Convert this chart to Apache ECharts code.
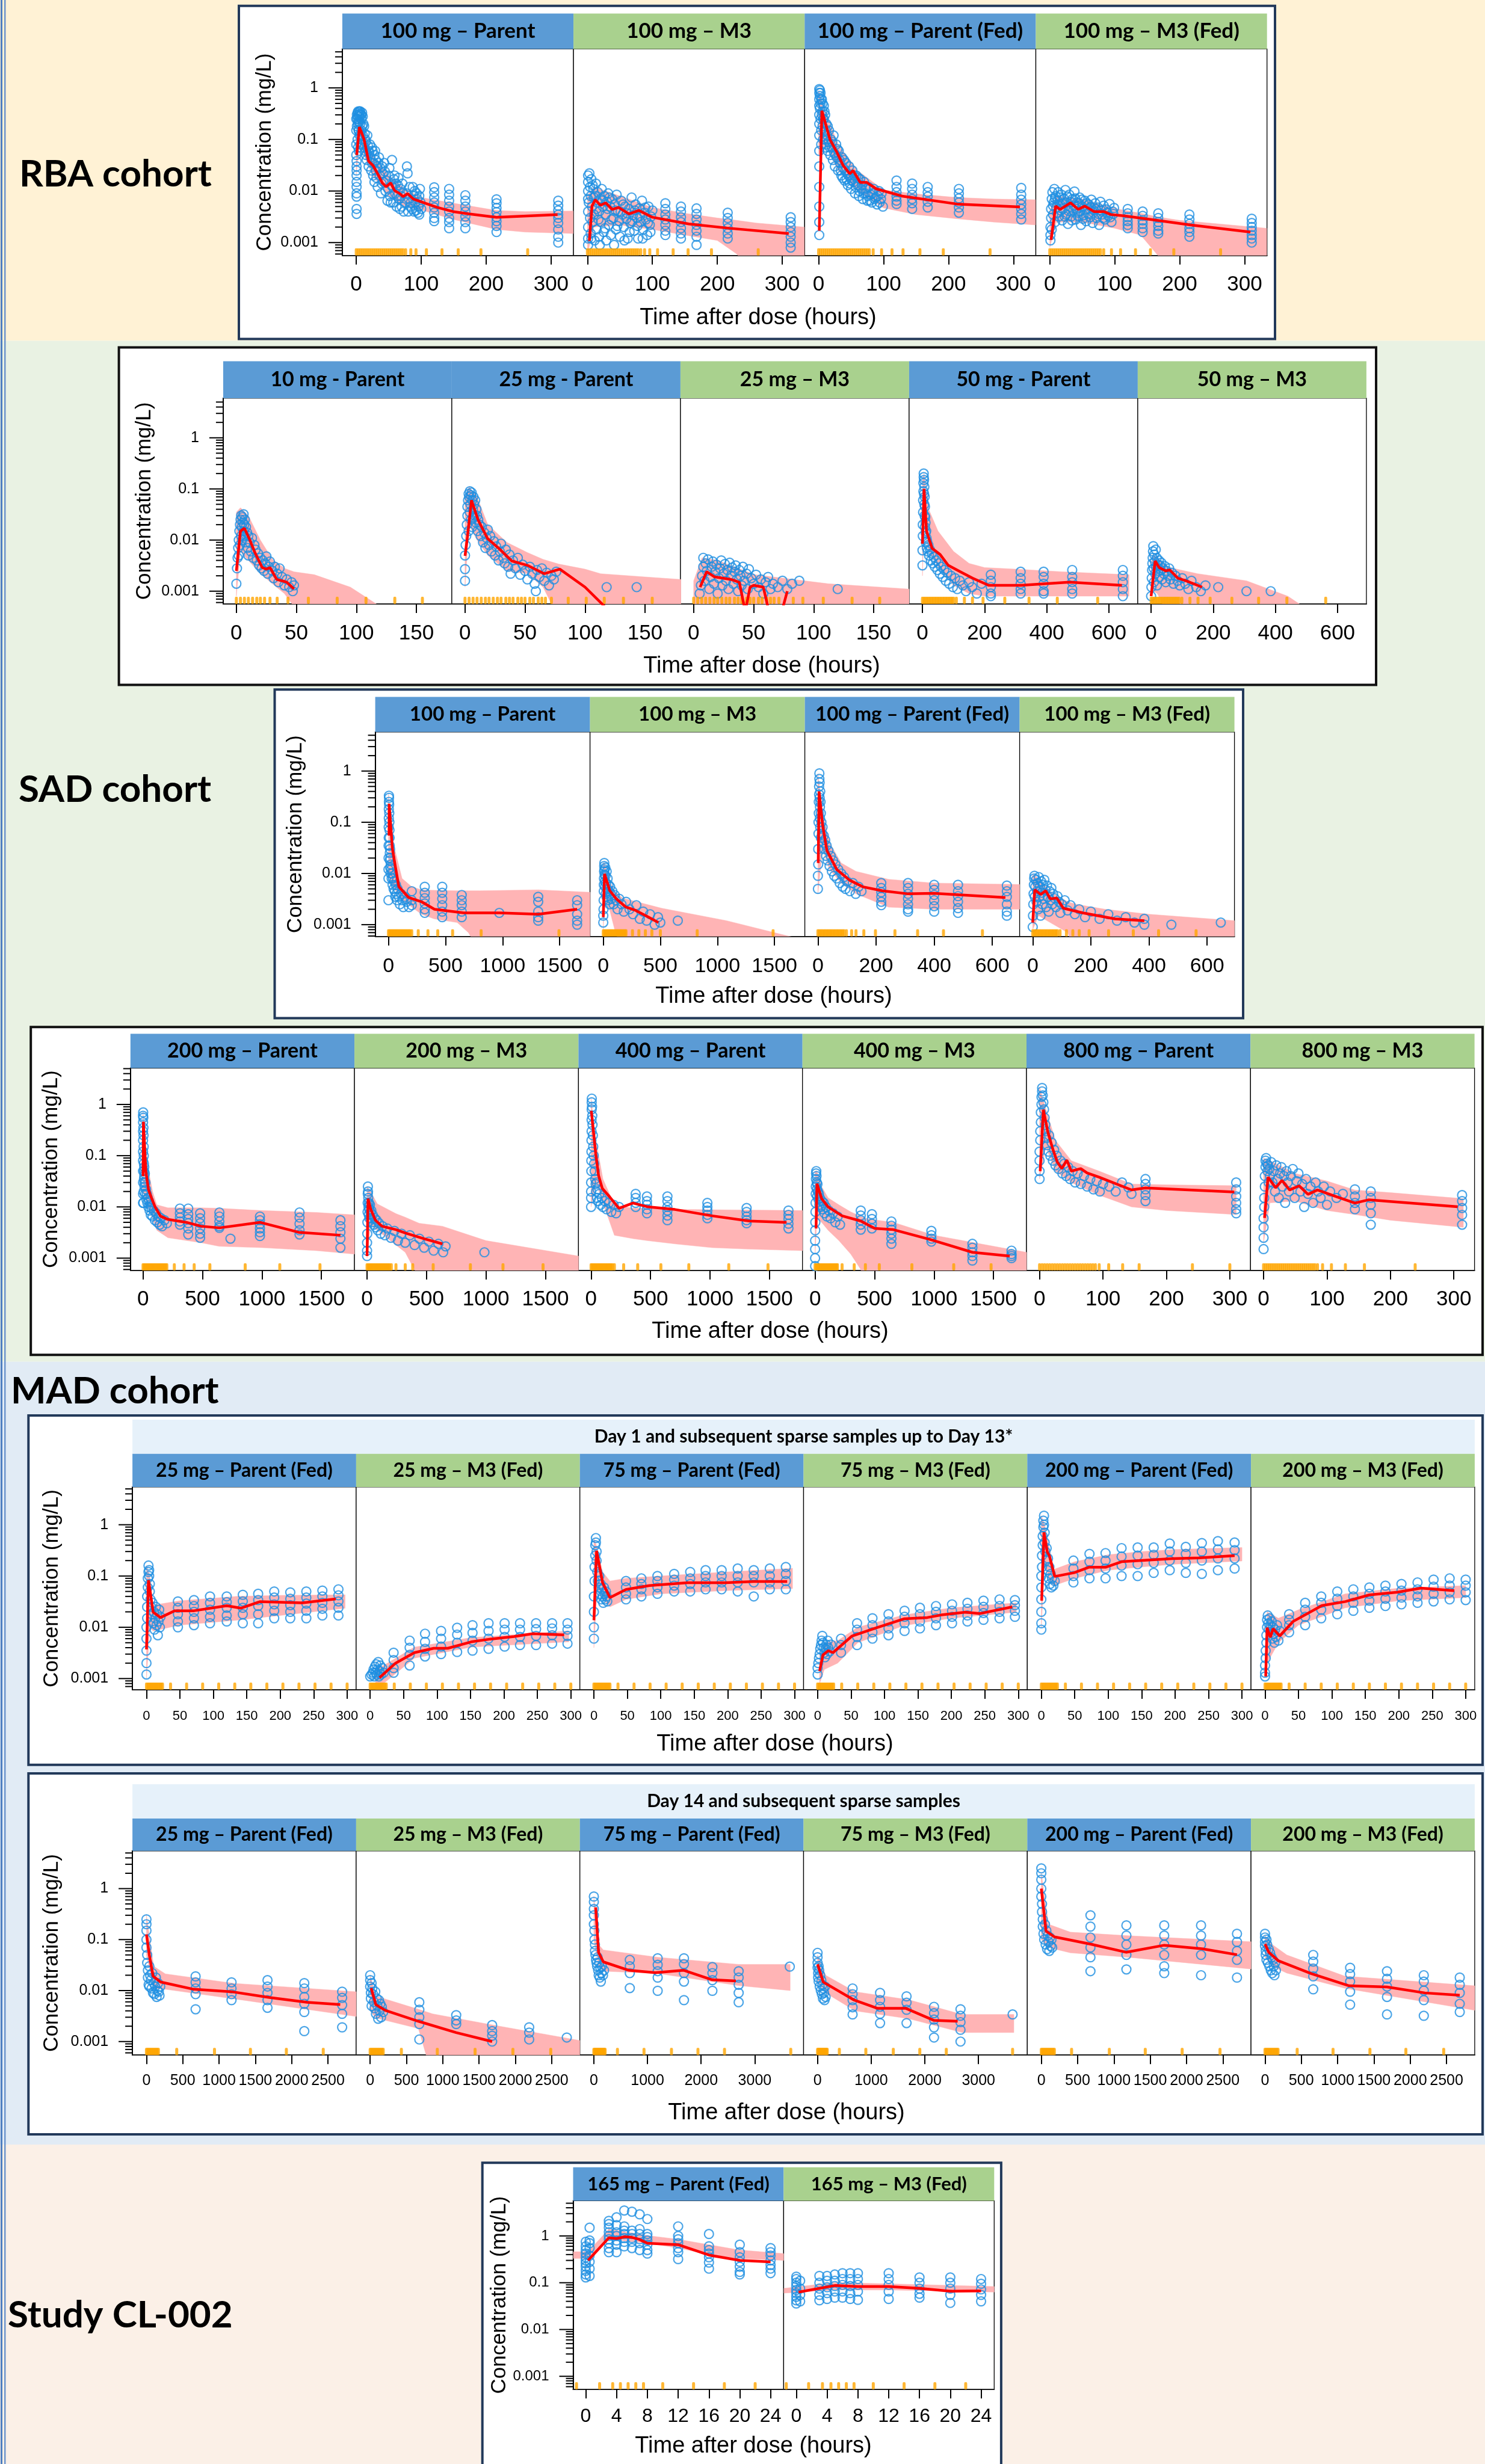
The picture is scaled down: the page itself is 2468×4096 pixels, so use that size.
<!DOCTYPE html>
<html><head><meta charset="utf-8">
<script src="https://cdn.jsdelivr.net/npm/echarts@6/dist/echarts.min.js"></script>
<style>html,body{margin:0;padding:0;background:#fff}#c{width:2468px;height:4096px}</style>
</head><body><div id="c"></div>
<script>
// ---------------- TEXT ----------------
const SECTION_LABELS = ['RBA cohort', 'SAD cohort', 'MAD cohort', 'Study CL-002'];
const RBA_TITLES = ['100 mg – Parent', '100 mg – M3', '100 mg – Parent (Fed)', '100 mg – M3 (Fed)'];
const SADA_TITLES = ['10 mg - Parent', '25 mg - Parent', '25 mg – M3', '50 mg - Parent', '50 mg – M3'];
const SADB_TITLES = ['100 mg – Parent', '100 mg – M3', '100 mg – Parent (Fed)', '100 mg – M3 (Fed)'];
const SADC_TITLES = ['200 mg – Parent', '200 mg – M3', '400 mg – Parent', '400 mg – M3', '800 mg – Parent', '800 mg – M3'];
const MAD_TITLES = ['25 mg – Parent (Fed)', '25 mg – M3 (Fed)', '75 mg – Parent (Fed)', '75 mg – M3 (Fed)', '200 mg – Parent (Fed)', '200 mg – M3 (Fed)'];
const CL_TITLES = ['165 mg – Parent (Fed)', '165 mg – M3 (Fed)'];
const DAY_HEADERS = ['Day 1 and subsequent sparse samples up to Day 13*', 'Day 14 and subsequent sparse samples'];
const Y_TITLE = 'Concentration (mg/L)';
const X_TITLE = 'Time after dose (hours)';

// ---------------- TICKS ----------------
const LOG_MAJOR = [0.001, 0.01, 0.1, 1];
const LOG_MINOR = [0.0006,0.0007,0.0008,0.0009,0.002,0.003,0.004,0.005,0.006,0.007,0.008,0.009,0.02,0.03,0.04,0.05,0.06,0.07,0.08,0.09,0.2,0.3,0.4,0.5,0.6,0.7,0.8,0.9,2,3,4,5];
const T300 = [0, 100, 200, 300];
const T150 = [0, 50, 100, 150];
const T600 = [0, 200, 400, 600];
const T1500 = [0, 500, 1000, 1500];
const T300B = [0, 50, 100, 150, 200, 250, 300];
const T2500 = [0, 500, 1000, 1500, 2000, 2500];
const T3000 = [0, 1000, 2000, 3000];
const T24 = [0, 4, 8, 12, 16, 20, 24];

// ---------------- RBA cohort ----------------
const A1_PTS = [[0.5,0.038],[0.5,0.03],[0.5,0.025],[0.5,0.02],[0.5,0.015],[0.5,0.012],[0.5,0.009],[0.5,0.0078],[0.5,0.0045],[0.5,0.0036],[1,0.3],[1.5,0.25],[2,0.33],[2.5,0.2],[3,0.35],[3.5,0.15],[4,0.3],[4.5,0.28],[5,0.22],[5.5,0.32],[6,0.35],[7,0.3],[8,0.25],[9,0.33],[10,0.28],[2,0.1],[3,0.07],[4,0.06],[5,0.12],[6,0.08],[8,0.15],[10,0.12],[12,0.18],[14,0.1],[12,0.07],[14,0.06],[15,0.05],[16,0.04],[18,0.075],[19,0.03],[20,0.055],[22,0.045],[23,0.025],[24,0.035],[25,0.06],[26,0.02],[28,0.05],[28,0.015],[30,0.04],[30,0.025],[32,0.03],[33,0.012],[35,0.045],[36,0.02],[38,0.009],[40,0.03],[42,0.015],[44,0.024],[45,0.01],[48,0.0065],[50,0.02],[52,0.008],[54,0.013],[55,0.04],[57,0.006],[58,0.017],[60,0.009],[62,0.005],[64,0.013],[66,0.007],[68,0.011],[70,0.005],[72,0.009],[75,0.006],[78,0.03],[79,0.022],[80,0.004],[82,0.012],[84,0.006],[86,0.0045],[88,0.008],[90,0.01],[92,0.0042],[94,0.007],[96,0.005],[97,0.0035],[98,0.011],[99,0.006],[0,0.25],[0,0.15],[0,0.08],[0,0.05],[1,0.18],[2,0.28],[3,0.22],[4,0.15],[5,0.35],[6,0.2],[7,0.12],[8,0.3],[9,0.18],[10,0.08],[11,0.2],[13,0.13],[15,0.09],[17,0.12],[19,0.06],[21,0.08],[24,0.07],[27,0.035],[29,0.06],[31,0.018],[34,0.035],[37,0.028],[39,0.014],[41,0.022],[43,0.035],[46,0.016],[49,0.011],[51,0.028],[53,0.006],[56,0.012],[59,0.02],[61,0.014],[63,0.008],[65,0.018],[67,0.0045],[69,0.008],[71,0.014],[73,0.004],[77,0.009],[81,0.007],[83,0.005],[87,0.012],[89,0.004],[91,0.006],[93,0.009],[95,0.0038],[97,0.008],[100,0.0045],[120,0.0118],[120,0.0095],[120,0.0075],[120,0.006],[120,0.0048],[120,0.0038],[120,0.003],[120,0.0026],[143,0.011],[143,0.0085],[143,0.0065],[143,0.005],[143,0.004],[143,0.003],[143,0.0025],[143,0.0019],[168,0.0083],[168,0.0065],[168,0.005],[168,0.004],[168,0.0032],[168,0.0025],[168,0.0019],[216,0.0069],[216,0.0058],[216,0.0047],[216,0.0039],[216,0.0031],[216,0.0026],[216,0.0021],[216,0.0016],[311,0.0065],[311,0.0052],[311,0.0042],[311,0.0035],[311,0.003],[311,0.0024],[311,0.0018],[311,0.0013],[311,0.001]];
const A1_MED = [[0.7,0.05],[4.8,0.174],[7.2,0.147],[12,0.1],[19,0.038],[26,0.031],[34,0.0204],[40,0.0144],[46,0.0121],[53,0.0144],[59,0.0102],[67,0.0089],[72,0.0078],[79,0.0089],[88,0.007],[101,0.0061],[125,0.0048],[149,0.004],[173,0.0036],[216,0.0031],[310,0.0035]];
const A1_BAND = [[0,0.02,0.08],[5,0.1,0.3],[12,0.05,0.15],[25,0.02,0.05],[50,0.008,0.02],[75,0.005,0.011],[100,0.0043,0.0075],[150,0.0028,0.0058],[216,0.0018,0.0042],[260,0.0016,0.004],[334,0.0015,0.0041]];
const A1_RUG = [0,3,6,9,12,15,18,21,24,27,30,33,36,39,42,45,48,51,54,57,60,63,66,69,72,76,84,92,108,132,157,192,264];

const A2_PTS = [[1,0.02],[1,0.015],[1,0.01],[1,0.007],[1,0.004],[1,0.002],[1,0.0012],[1,0.0009],[3,0.022],[4,0.012],[5,0.008],[5,0.0015],[6,0.017],[7,0.005],[8,0.0025],[9,0.011],[10,0.0035],[11,0.0011],[12,0.008],[13,0.014],[14,0.0018],[15,0.006],[16,0.0095],[18,0.004],[18,0.0013],[20,0.007],[21,0.0025],[22,0.011],[24,0.005],[25,0.0016],[26,0.008],[28,0.0035],[29,0.0011],[30,0.0062],[32,0.009],[33,0.0022],[35,0.005],[36,0.0014],[38,0.007],[40,0.003],[42,0.0055],[44,0.0018],[45,0.0085],[47,0.004],[49,0.0026],[50,0.0013],[52,0.0065],[54,0.0035],[56,0.002],[58,0.005],[60,0.0029],[62,0.0012],[64,0.0045],[66,0.0024],[68,0.0075],[70,0.0034],[72,0.0017],[74,0.0055],[76,0.003],[78,0.0012],[80,0.0046],[82,0.0025],[84,0.0065],[86,0.0018],[88,0.0038],[90,0.0028],[92,0.0014],[94,0.005],[96,0.0022],[98,0.0032],[2,0.006],[4,0.003],[6,0.0012],[8,0.013],[10,0.0075],[14,0.0045],[17,0.0028],[19,0.0009],[23,0.0065],[27,0.0019],[31,0.0045],[34,0.0075],[37,0.0028],[41,0.0009],[43,0.0042],[46,0.0021],[51,0.004],[55,0.0055],[57,0.0011],[61,0.0037],[65,0.0016],[69,0.0026],[73,0.0042],[77,0.0021],[81,0.0033],[85,0.0012],[89,0.0048],[93,0.0024],[97,0.0016],[100,0.0042],[120,0.0058],[120,0.0045],[120,0.0035],[120,0.0028],[120,0.0022],[120,0.0017],[120,0.0014],[144,0.005],[144,0.004],[144,0.0031],[144,0.0025],[144,0.0019],[144,0.0015],[144,0.0012],[168,0.0046],[168,0.0036],[168,0.0028],[168,0.0022],[168,0.0017],[168,0.0013],[168,0.0009],[216,0.0038],[216,0.003],[216,0.0024],[216,0.0019],[216,0.0015],[216,0.0012],[313,0.0031],[313,0.0025],[313,0.002],[313,0.0016],[313,0.0013],[313,0.001],[313,0.0008]];
const A2_MED = [[3,0.00108],[7,0.0051],[12,0.0068],[20,0.0053],[28,0.0059],[38,0.0044],[48,0.0048],[64,0.0036],[79,0.0042],[100,0.0031],[156,0.0023],[218,0.0019],[310,0.0015]];
const A2_BAND = [[0,0.0006,0.008],[10,0.002,0.012],[50,0.0022,0.008],[100,0.0018,0.0048],[150,0.0014,0.0037],[200,0.0011,0.003],[230,0.0006,0.0027],[260,0.0002,0.0024],[334,0.0001,0.002]];
const A2_RUG = [0,3,6,9,12,15,18,21,24,27,30,33,36,39,42,45,48,51,54,57,60,63,66,69,72,75,78,82,88,96,108,132,155,191,263];

const A3_PTS = [[1,0.95],[1,0.8],[1,0.6],[1,0.45],[1,0.3],[1,0.2],[1,0.12],[1,0.06],[1,0.03],[1,0.012],[1,0.005],[1,0.0025],[1,0.0014],[2,0.7],[3,0.5],[3,0.25],[4,0.15],[4,0.08],[5,0.6],[6,0.35],[6,0.18],[7,0.1],[8,0.45],[8,0.25],[9,0.14],[10,0.3],[10,0.07],[12,0.2],[13,0.12],[14,0.06],[15,0.09],[16,0.15],[18,0.05],[19,0.1],[20,0.07],[22,0.04],[23,0.12],[24,0.055],[25,0.03],[27,0.08],[28,0.045],[30,0.025],[31,0.06],[33,0.035],[35,0.02],[36,0.045],[38,0.028],[40,0.016],[42,0.035],[44,0.022],[45,0.013],[47,0.03],[49,0.018],[50,0.011],[52,0.025],[54,0.015],[56,0.009],[58,0.02],[60,0.013],[62,0.008],[64,0.017],[66,0.011],[68,0.007],[70,0.015],[72,0.009],[75,0.0065],[77,0.012],[80,0.0085],[82,0.006],[85,0.011],[88,0.0075],[90,0.0055],[93,0.01],[96,0.007],[99,0.005],[2,0.9],[2,0.4],[3,0.8],[4,0.6],[5,0.3],[6,0.5],[7,0.25],[9,0.35],[11,0.15],[12,0.08],[14,0.18],[17,0.07],[21,0.09],[26,0.05],[29,0.065],[32,0.04],[34,0.025],[37,0.018],[39,0.04],[41,0.025],[43,0.017],[46,0.02],[48,0.014],[51,0.016],[55,0.02],[57,0.012],[61,0.018],[63,0.01],[67,0.013],[69,0.009],[73,0.011],[76,0.008],[79,0.0065],[83,0.009],[86,0.007],[91,0.008],[94,0.006],[97,0.009],[120,0.016],[120,0.012],[120,0.0095],[120,0.0078],[120,0.0065],[120,0.0056],[144,0.014],[144,0.011],[144,0.0085],[144,0.007],[144,0.0058],[144,0.0045],[168,0.012],[168,0.0095],[168,0.0078],[168,0.0062],[168,0.0048],[216,0.011],[216,0.009],[216,0.0072],[216,0.006],[216,0.0048],[216,0.0038],[312,0.0115],[312,0.0085],[312,0.0068],[312,0.0055],[312,0.0045],[312,0.0036],[312,0.0028]];
const A3_MED = [[1,0.0017],[5,0.36],[17.5,0.1],[28,0.057],[38,0.031],[48,0.0216],[53,0.025],[64,0.0147],[74,0.0147],[89,0.011],[130,0.0079],[213,0.0056],[310,0.0049]];
const A3_BAND = [[0,0.05,0.9],[10,0.08,0.35],[30,0.025,0.08],[60,0.01,0.025],[100,0.0047,0.0105],[150,0.0035,0.0088],[213,0.0029,0.0075],[270,0.0025,0.007],[334,0.0022,0.0068]];
const A3_RUG = [0,3,6,9,12,15,18,21,24,27,30,33,36,39,42,45,48,51,54,57,60,63,66,69,72,75,78,84,97,113,130,156,192,264];

const A4_PTS = [[1,0.0011],[1,0.0014],[1,0.002],[2,0.003],[2,0.0045],[3,0.007],[4,0.0095],[5,0.0035],[6,0.006],[7,0.011],[8,0.0025],[9,0.008],[10,0.0048],[12,0.0065],[13,0.0095],[14,0.0032],[16,0.0055],[18,0.0085],[19,0.0027],[20,0.0045],[22,0.007],[24,0.0105],[25,0.0035],[26,0.006],[28,0.0023],[30,0.0085],[31,0.005],[33,0.0032],[35,0.007],[36,0.0042],[38,0.0098],[40,0.0028],[42,0.006],[44,0.0038],[46,0.0075],[48,0.0022],[50,0.005],[52,0.0034],[54,0.0065],[56,0.0026],[58,0.0045],[60,0.0055],[62,0.0031],[64,0.0068],[66,0.0024],[68,0.0042],[70,0.0058],[72,0.003],[74,0.0048],[76,0.0022],[78,0.0062],[80,0.0035],[83,0.0052],[85,0.0028],[87,0.0044],[90,0.0033],[92,0.0056],[95,0.0025],[97,0.004],[99,0.0047],[3,0.0018],[5,0.0052],[8,0.0072],[11,0.0038],[15,0.0075],[17,0.0042],[21,0.0058],[23,0.0032],[27,0.0078],[29,0.0041],[32,0.0062],[34,0.0027],[37,0.0052],[39,0.0072],[41,0.0045],[43,0.0033],[45,0.0058],[47,0.0041],[49,0.0068],[51,0.0029],[55,0.0044],[57,0.0058],[59,0.0036],[63,0.0049],[67,0.0038],[71,0.0045],[75,0.0036],[79,0.0042],[82,0.003],[88,0.0038],[93,0.0031],[98,0.0036],[120,0.0045],[120,0.0037],[120,0.0031],[120,0.0026],[120,0.0022],[120,0.0019],[143,0.004],[143,0.0033],[143,0.0027],[143,0.0023],[143,0.0019],[143,0.0016],[167,0.0037],[167,0.003],[167,0.0025],[167,0.0021],[167,0.0017],[167,0.0015],[215,0.0035],[215,0.0028],[215,0.0023],[215,0.0019],[215,0.0016],[215,0.0013],[311,0.0029],[311,0.0024],[311,0.002],[311,0.0017],[311,0.0014],[311,0.0012],[311,0.001]];
const A4_MED = [[2,0.00113],[9,0.0051],[16,0.0044],[32,0.0059],[44,0.0044],[54,0.0051],[68,0.004],[83,0.004],[94,0.0035],[114,0.0033],[165,0.0027],[217,0.0022],[309,0.0016]];
const A4_BAND = [[0,0.0008,0.004],[10,0.0025,0.008],[50,0.0025,0.007],[100,0.0019,0.0046],[140,0.0014,0.0037],[170,0.0005,0.0031],[200,0.0002,0.0027],[334,0.0001,0.0019]];
const A4_RUG = [0,3,6,9,12,15,18,21,24,27,30,33,36,39,42,45,48,51,54,57,60,63,66,69,72,75,78,83,95,109,132,155,191,263];

// ---------------- SAD cohort, row 1 ----------------
const B1_PTS = [[0,0.0014],[0.5,0.0028],[1,0.0045],[1.5,0.007],[2,0.01],[2,0.005],[2.5,0.015],[3,0.02],[3,0.008],[3.5,0.025],[4,0.012],[4,0.03],[4.5,0.018],[5,0.028],[5,0.01],[5.5,0.022],[6,0.015],[6,0.032],[6.5,0.02],[7,0.025],[7,0.012],[8,0.018],[8,0.009],[9,0.014],[9.5,0.007],[10,0.012],[10,0.005],[11,0.009],[12,0.006],[13,0.011],[14,0.0045],[15,0.008],[16,0.0065],[17,0.004],[18,0.0055],[19,0.0032],[20,0.0045],[21,0.0028],[22,0.004],[23,0.0025],[24,0.0035],[25,0.0048],[26,0.0022],[27,0.003],[28,0.0038],[30,0.0025],[31,0.0018],[32,0.003],[34,0.0022],[35,0.0015],[36,0.0028],[38,0.0019],[40,0.0013],[42,0.0017],[44,0.0012],[46,0.0015],[47,0.001],[48,0.0013]];
const B1_MED = [[0,0.0025],[3.4,0.015],[6.7,0.017],[11,0.0103],[15,0.006],[21.5,0.0029],[25,0.0027],[28,0.0029],[33.6,0.0017],[42,0.0015],[48,0.0011]];
const B1_BAND = [[0,0.0008,0.035],[3.4,0.006,0.043],[10,0.004,0.03],[20,0.0022,0.01],[30,0.0014,0.0042],[40,0.0009,0.0028],[48,0.0005,0.0024],[65,0.0003,0.0021],[95,0.0002,0.0012],[120,0.0001,0.0005]];
const B1_RUG = [0,3.4,6.7,10,13.5,17,20,23.5,28,34,43,60,84,108,132,155];

const B2_PTS = [[0,0.0016],[0,0.0027],[0,0.005],[0.5,0.008],[1,0.012],[1.5,0.02],[2,0.03],[2,0.045],[2.5,0.06],[3,0.08],[3,0.015],[3.5,0.07],[4,0.09],[4,0.035],[4.5,0.05],[5,0.075],[5,0.025],[5.5,0.085],[6,0.06],[6,0.018],[6.5,0.04],[7,0.07],[7,0.028],[7.5,0.05],[8,0.03],[8.5,0.06],[9,0.022],[9.5,0.04],[10,0.03],[10.5,0.015],[11,0.025],[12,0.02],[13,0.012],[14,0.018],[15,0.009],[16,0.014],[17,0.007],[18,0.011],[19,0.016],[20,0.008],[21,0.012],[22,0.006],[24,0.0095],[25,0.005],[26,0.0075],[28,0.004],[29,0.006],[30,0.0085],[32,0.0045],[33,0.0035],[34,0.0065],[36,0.003],[37,0.0052],[38,0.0022],[40,0.004],[42,0.0028],[44,0.0045],[46,0.0021],[48,0.0033],[50,0.0025],[52,0.0017],[54,0.003],[56,0.0022],[58,0.0014],[59,0.001],[60,0.0026],[62,0.0019],[64,0.0028],[66,0.0016],[68,0.0023],[70,0.0013],[72,0.002],[74,0.0017],[76,0.0024],[118,0.0012],[143,0.0012]];
const B2_MED = [[0,0.0049],[2,0.0114],[5.4,0.06],[10.8,0.025],[18.8,0.0107],[29,0.0066],[39,0.0039],[52,0.0032],[66,0.0022],[79,0.0027],[100,0.0012],[126,0.0003]];
const B2_BAND = [[0,0.0012,0.07],[3.4,0.02,0.11],[10,0.01,0.07],[19,0.005,0.02],[35,0.0025,0.009],[52,0.0022,0.0057],[65,0.0012,0.0042],[78,0.0003,0.0034],[100,0.0002,0.0027],[113,0.0001,0.0022],[150,0.0001,0.0019],[180,0.0001,0.0017]];
const B2_RUG = [0,3.4,6.7,10,13.5,17,20,23.5,27,30,34,37,40,44,47,50,54,57,61,64,67,72,86,101,116,132,156];

const B3_PTS = [[5,0.0009],[6,0.0013],[7,0.002],[8,0.003],[8,0.0045],[9,0.0016],[10,0.0035],[11,0.0025],[12,0.0042],[13,0.0011],[14,0.0019],[15,0.003],[16,0.0038],[17,0.0014],[18,0.0024],[19,0.0033],[20,0.0009],[21,0.0018],[22,0.0028],[23,0.004],[24,0.0013],[25,0.0022],[26,0.0034],[27,0.0016],[28,0.0026],[29,0.0011],[30,0.0036],[31,0.002],[32,0.0029],[33,0.0014],[34,0.0024],[35,0.0032],[36,0.0017],[37,0.001],[38,0.0026],[39,0.002],[40,0.0013],[41,0.003],[42,0.0016],[44,0.0022],[45,0.0011],[46,0.0027],[48,0.0018],[50,0.0014],[52,0.0021],[54,0.0012],[56,0.0017],[58,0.0009],[60,0.0015],[62,0.0019],[64,0.0011],[66,0.0014],[70,0.0012],[74,0.0016],[78,0.0011],[82,0.0014],[88,0.0016],[120,0.0011]];
const B3_MED = [[5.4,0.0012],[10.8,0.0024],[17.5,0.0019],[24,0.0018],[31,0.0017],[38,0.0015],[43,0.0004],[47,0.0012],[50,0.0013],[58,0.0012],[64,0.0003],[72,0.0003],[78,0.001]];
const B3_BAND = [[0,0.0002,0.0016],[7,0.0002,0.0045],[20,0.0002,0.004],[51,0.0002,0.0021],[112,0.0002,0.0014],[180,0.0002,0.0011]];
const B3_RUG = [0,3.4,6.7,10,13.5,17,20,23.5,27,30,34,37,40,44,47,50,54,57,61,64,67,71,83,91,108,132,155];

const B4_PTS = [[0,0.0032],[0,0.0063],[1,0.012],[1,0.02],[2,0.035],[2,0.06],[3,0.09],[3,0.13],[4,0.17],[4,0.2],[5,0.15],[5,0.08],[6,0.11],[6,0.05],[7,0.07],[7,0.03],[8,0.045],[8,0.018],[9,0.028],[10,0.014],[10,0.022],[11,0.009],[12,0.015],[13,0.011],[14,0.007],[15,0.0095],[17,0.006],[19,0.008],[21,0.005],[24,0.0065],[27,0.004],[30,0.0055],[33,0.0035],[36,0.0047],[40,0.003],[44,0.004],[48,0.0026],[52,0.0035],[56,0.0022],[60,0.003],[65,0.0019],[70,0.0026],[75,0.0016],[80,0.0023],[86,0.0014],[92,0.002],[98,0.0012],[105,0.0018],[112,0.0011],[120,0.0016],[130,0.0013],[140,0.001],[150,0.0015],[160,0.0012],[175,0.0009],[190,0.0014],[220,0.0021],[220,0.0016],[220,0.0012],[220,0.0009],[220,0.0008],[316,0.0024],[316,0.0018],[316,0.0014],[316,0.0011],[316,0.0009],[390,0.0024],[390,0.0019],[390,0.0014],[390,0.001],[390,0.0009],[482,0.0026],[482,0.0019],[482,0.0015],[482,0.0011],[482,0.0009],[645,0.0026],[645,0.002],[645,0.0015],[645,0.0011],[645,0.0008]];
const B4_MED = [[0,0.0085],[5,0.1],[13,0.015],[31,0.0069],[57,0.0052],[83,0.0032],[122,0.0024],[161,0.0018],[213,0.0013],[317,0.0013],[473,0.0015],[642,0.0013]];
const B4_BAND = [[0,0.002,0.15],[5,0.02,0.2],[20,0.006,0.04],[50,0.003,0.015],[100,0.0013,0.006],[150,0.0009,0.0035],[200,0.0008,0.0029],[300,0.0008,0.0027],[450,0.0008,0.0024],[665,0.0008,0.0021]];
const B4_RUG = [0,5,10,15,20,25,30,35,40,45,50,55,60,65,70,75,80,85,90,95,100,109,135,161,195,265,343,434,564];

const B5_PTS = [[0,0.0008],[1,0.0012],[2,0.0018],[3,0.0026],[4,0.0035],[5,0.0045],[6,0.006],[7,0.0076],[8,0.0028],[9,0.0015],[10,0.0052],[12,0.0038],[13,0.0022],[15,0.0065],[16,0.003],[18,0.0045],[19,0.0013],[21,0.0033],[23,0.0025],[25,0.004],[27,0.0019],[29,0.0032],[31,0.0026],[33,0.0036],[35,0.0017],[38,0.0028],[41,0.0022],[44,0.0031],[47,0.0015],[50,0.0025],[54,0.002],[58,0.0028],[62,0.0017],[67,0.0023],[72,0.0014],[78,0.002],[85,0.0016],[92,0.0013],[100,0.0018],[110,0.0014],[120,0.0011],[130,0.0016],[145,0.0012],[160,0.001],[175,0.0013],[216,0.0012],[307,0.001],[385,0.001]];
const B5_MED = [[0,0.0008],[13,0.0039],[26,0.0029],[47,0.0025],[60,0.0026],[86,0.0018],[112,0.0016],[164,0.0012]];
const B5_BAND = [[0,0.0008,0.0035],[8,0.001,0.0052],[20,0.0009,0.0045],[35,0.0006,0.0038],[45,0.0003,0.0032],[60,0.0002,0.0029],[150,0.0002,0.0022],[307,0.0002,0.0016],[440,0.0002,0.0008],[490,0.0001,0.0005]];
const B5_RUG = [0,5,10,15,20,25,30,35,40,45,50,55,60,65,70,75,80,85,90,99,125,151,190,260,346,437,562];

// ---------------- SAD cohort, row 2 (100 mg) ----------------
const C1_PTS = [[0,0.003],[0,0.008],[0,0.012],[1,0.02],[1,0.035],[2,0.05],[2,0.08],[3,0.12],[3,0.18],[4,0.25],[4,0.33],[5,0.3],[6,0.22],[7,0.15],[8,0.1],[9,0.07],[10,0.05],[11,0.035],[12,0.025],[13,0.018],[14,0.03],[15,0.013],[16,0.02],[18,0.01],[20,0.015],[24,0.012],[28,0.008],[32,0.01],[36,0.006],[40,0.008],[45,0.005],[50,0.007],[55,0.0045],[60,0.0035],[65,0.006],[70,0.004],[75,0.003],[80,0.005],[90,0.0035],[100,0.0025],[110,0.004],[120,0.003],[130,0.0022],[145,0.0035],[160,0.0028],[180,0.0022],[204,0.0045],[204,0.003],[204,0.0024],[318,0.0055],[318,0.0042],[318,0.0033],[318,0.0026],[318,0.002],[318,0.0017],[471,0.0055],[471,0.0042],[471,0.0032],[471,0.0024],[471,0.0018],[471,0.0014],[642,0.0038],[642,0.003],[642,0.0024],[642,0.0018],[642,0.0014],[971,0.0017],[1312,0.0035],[1312,0.0028],[1312,0.0018],[1312,0.0014],[1312,0.0012],[1653,0.003],[1653,0.0024],[1653,0.0016],[1653,0.0012],[1653,0.001]];
const C1_MED = [[5,0.055],[6,0.23],[34,0.031],[62,0.013],[91,0.0055],[176,0.0034],[290,0.0028],[403,0.002],[659,0.0017],[971,0.0017],[1312,0.0016],[1653,0.002]];
const C1_BAND = [[0,0.01,0.37],[30,0.006,0.05],[119,0.0031,0.008],[204,0.0022,0.0055],[290,0.0016,0.0048],[400,0.0013,0.0047],[602,0.0011,0.0046],[700,0.0007,0.0046],[800,0.0003,0.0046],[1312,0.0002,0.0048],[1766,0.0002,0.0043]];
const C1_RUG = [0,10,20,30,40,50,60,70,80,90,100,110,120,130,140,150,160,170,180,190,204,261,346,432,562,812,1494];

const C2_PTS = [[0,0.0011],[0,0.0015],[2,0.002],[3,0.003],[4,0.0045],[5,0.006],[6,0.008],[7,0.011],[8,0.014],[9,0.016],[10,0.012],[12,0.0095],[14,0.007],[16,0.0055],[18,0.013],[20,0.009],[22,0.004],[25,0.0065],[28,0.0035],[30,0.011],[34,0.005],[38,0.008],[42,0.003],[46,0.006],[50,0.0045],[55,0.0025],[60,0.0055],[65,0.004],[70,0.0032],[80,0.0045],[90,0.0025],[100,0.0038],[110,0.003],[125,0.002],[140,0.0032],[160,0.0025],[180,0.0018],[200,0.0028],[230,0.002],[260,0.0016],[290,0.0024],[320,0.0013],[350,0.0018],[380,0.0012],[410,0.0016],[450,0.001],[480,0.0014],[500,0.0011],[653,0.0012]];
const C2_MED = [[0,0.0014],[11,0.0098],[57,0.0046],[114,0.0032],[199,0.0022],[284,0.0019],[398,0.0014],[483,0.0011]];
const C2_BAND = [[0,0.0008,0.016],[11,0.003,0.016],[57,0.0019,0.007],[100,0.0008,0.0045],[170,0.0003,0.0033],[511,0.0001,0.0021],[1079,0.0001,0.0012],[1534,0.0001,0.00067],[1766,0.0001,0.0005]];
const C2_RUG = [0,10,20,30,40,50,60,70,80,90,100,110,120,130,140,150,160,170,180,190,199,256,312,369,426,500,823,1488];

const C3_PTS = [[0,0.005],[0,0.009],[1,0.015],[1,0.03],[2,0.06],[2,0.1],[3,0.15],[3,0.25],[4,0.35],[4,0.5],[5,0.7],[5,0.9],[6,0.6],[6,0.3],[7,0.2],[7,0.12],[8,0.08],[8,0.4],[9,0.25],[10,0.15],[10,0.05],[12,0.1],[14,0.06],[16,0.08],[18,0.04],[20,0.055],[22,0.03],[25,0.045],[28,0.022],[30,0.035],[33,0.018],[36,0.028],[40,0.014],[44,0.022],[48,0.011],[52,0.018],[56,0.009],[60,0.015],[65,0.008],[70,0.012],[75,0.0065],[80,0.01],[85,0.0055],[90,0.0085],[95,0.005],[100,0.007],[110,0.0045],[120,0.0065],[130,0.004],[140,0.0055],[150,0.0045],[218,0.0065],[218,0.0052],[218,0.0043],[218,0.0035],[218,0.0028],[218,0.0024],[310,0.0065],[310,0.0052],[310,0.004],[310,0.0032],[310,0.0025],[310,0.002],[310,0.0018],[400,0.006],[400,0.0048],[400,0.0038],[400,0.003],[400,0.0023],[400,0.0018],[482,0.006],[482,0.0045],[482,0.0036],[482,0.0028],[482,0.0021],[482,0.0017],[650,0.0058],[650,0.0045],[650,0.0035],[650,0.0025],[650,0.0018],[650,0.0015]];
const C3_MED = [[1,0.016],[4,0.4],[16,0.089],[31,0.028],[65,0.0119],[109,0.0074],[154,0.0055],[221,0.0046],[310,0.004],[399,0.0041],[645,0.0034]];
const C3_BAND = [[0,0.004,0.9],[16,0.03,0.15],[40,0.012,0.04],[80,0.0065,0.016],[131,0.004,0.011],[243,0.0022,0.0077],[400,0.002,0.0065],[694,0.002,0.0061]];
const C3_RUG = [0,5,10,15,20,25,30,35,40,45,50,55,60,65,70,75,80,85,90,98,116,131,158,198,265,343,432,566];

const C4_PTS = [[0,0.0009],[1,0.0015],[2,0.0025],[3,0.004],[4,0.006],[5,0.008],[6,0.009],[7,0.0035],[9,0.0055],[11,0.0075],[13,0.0028],[15,0.0045],[17,0.0065],[19,0.002],[21,0.0085],[23,0.0035],[25,0.0055],[27,0.0015],[29,0.007],[31,0.0042],[33,0.0025],[35,0.006],[37,0.0032],[40,0.0075],[43,0.0048],[46,0.0022],[49,0.0058],[52,0.0035],[55,0.0018],[58,0.0045],[61,0.003],[64,0.0052],[67,0.0025],[70,0.004],[75,0.0033],[80,0.0022],[85,0.0036],[90,0.0028],[95,0.0017],[100,0.0025],[110,0.003],[120,0.0019],[130,0.0024],[145,0.0016],[160,0.002],[180,0.0014],[200,0.0018],[230,0.0013],[260,0.0016],[290,0.0012],[320,0.0014],[350,0.0011],[384,0.0013],[384,0.001],[477,0.001],[647,0.0011]];
const C4_MED = [[0,0.0011],[7,0.0048],[27,0.0039],[45,0.0046],[60,0.0032],[83,0.0033],[105,0.0021],[172,0.0017],[283,0.0013],[384,0.0012]];
const C4_BAND = [[0,0.0008,0.0098],[20,0.0015,0.008],[60,0.0011,0.0045],[120,0.0007,0.0028],[150,0.0003,0.0025],[250,0.0002,0.002],[400,0.0002,0.0016],[694,0.0002,0.0012]];
const C4_RUG = [0,5,10,15,20,25,30,35,40,45,50,55,60,65,70,75,80,85,94,116,138,160,194,261,346,433,562];

// ---------------- SAD cohort, row 3 (200-800 mg) ----------------
const D1_PTS = [[0,0.012],[0,0.018],[0,0.03],[0,0.05],[0,0.08],[0,0.12],[0,0.2],[0,0.3],[0,0.45],[0,0.6],[1,0.7],[2,0.55],[3,0.35],[4,0.25],[5,0.15],[6,0.1],[7,0.07],[8,0.05],[10,0.04],[12,0.03],[3,0.012],[5,0.02],[8,0.035],[10,0.06],[12,0.025],[15,0.045],[18,0.018],[20,0.03],[25,0.022],[28,0.014],[32,0.018],[36,0.012],[40,0.015],[45,0.01],[50,0.013],[55,0.0085],[60,0.011],[65,0.007],[70,0.0095],[80,0.0065],[90,0.0085],[100,0.0055],[110,0.0075],[120,0.005],[130,0.0065],[140,0.0045],[150,0.006],[160,0.0042],[180,0.0055],[200,0.0048],[310,0.0093],[310,0.0075],[310,0.0062],[310,0.0052],[310,0.0045],[380,0.0093],[380,0.0072],[380,0.0058],[380,0.0048],[380,0.0038],[380,0.0029],[480,0.0075],[480,0.006],[480,0.0048],[480,0.0038],[480,0.003],[480,0.0025],[642,0.0078],[642,0.0065],[642,0.0052],[642,0.0042],[642,0.0039],[735,0.0024],[983,0.0065],[983,0.0055],[983,0.0046],[983,0.0038],[983,0.0032],[983,0.0027],[1316,0.0078],[1316,0.0062],[1316,0.0047],[1316,0.0035],[1316,0.0029],[1660,0.0055],[1660,0.0042],[1660,0.0032],[1660,0.0024],[1660,0.0016]];
const D1_MED = [[0,0.04],[3,0.46],[23,0.05],[46,0.0216],[70,0.0152],[101,0.01],[147,0.0066],[209,0.0057],[364,0.005],[487,0.0042],[642,0.0039],[983,0.005],[1308,0.0032],[1660,0.0028]];
const D1_BAND = [[0,0.02,0.7],[30,0.012,0.08],[80,0.006,0.02],[116,0.0035,0.011],[209,0.0025,0.0096],[487,0.002,0.0096],[640,0.0017,0.0094],[1000,0.0016,0.0085],[1459,0.0014,0.0078],[1778,0.0012,0.007]];
const D1_RUG = [0,10,20,30,40,50,60,70,80,90,100,110,120,130,140,150,160,170,180,190,200,263,345,430,562,859,1150,1488];

const D2_PTS = [[0,0.0011],[0,0.0014],[0,0.002],[2,0.003],[3,0.005],[4,0.008],[5,0.012],[6,0.018],[7,0.025],[8,0.02],[10,0.015],[12,0.01],[14,0.007],[16,0.012],[18,0.009],[20,0.006],[24,0.011],[28,0.008],[32,0.006],[36,0.0085],[40,0.005],[48,0.007],[56,0.0045],[64,0.006],[72,0.004],[80,0.0055],[90,0.0035],[100,0.0048],[115,0.003],[130,0.0042],[150,0.0028],[170,0.0038],[200,0.0025],[230,0.0034],[260,0.0022],[290,0.003],[320,0.002],[360,0.0028],[400,0.0018],[440,0.0024],[480,0.0016],[520,0.0021],[560,0.0014],[600,0.0019],[640,0.0013],[660,0.0017],[987,0.0013]];
const D2_MED = [[0,0.0011],[8,0.0145],[31,0.009],[70,0.0055],[125,0.0042],[243,0.0036],[321,0.0031],[478,0.0024],[634,0.0019]];
const D2_BAND = [[0,0.001,0.025],[30,0.0045,0.02],[86,0.0035,0.0115],[243,0.0018,0.0074],[321,0.0013,0.0063],[438,0.0004,0.0048],[634,0.0002,0.0042],[1000,0.0002,0.0022],[1778,0.0002,0.0011]];
const D2_RUG = [0,10,20,30,40,50,60,70,80,90,100,110,120,130,140,150,160,170,180,190,204,243,321,384,556,869,1143,1480];

const D3_PTS = [[0,0.01],[0,0.015],[0,0.02],[0,0.03],[2,0.05],[2,0.08],[3,0.12],[3,0.2],[4,0.3],[4,0.5],[5,0.8],[5,1.1],[6,1.3],[8,0.9],[10,0.6],[12,0.4],[15,0.25],[18,0.15],[22,0.1],[26,0.07],[30,0.05],[34,0.035],[38,0.028],[42,0.02],[46,0.03],[50,0.015],[55,0.022],[60,0.013],[70,0.018],[80,0.011],[90,0.015],[100,0.01],[115,0.013],[130,0.009],[150,0.012],[170,0.008],[190,0.011],[210,0.0075],[235,0.01],[375,0.018],[375,0.015],[375,0.012],[375,0.01],[470,0.016],[470,0.013],[470,0.011],[470,0.009],[470,0.0075],[642,0.016],[642,0.013],[642,0.01],[642,0.0085],[642,0.0068],[642,0.0055],[978,0.012],[978,0.01],[978,0.0085],[978,0.007],[978,0.006],[1308,0.0095],[1308,0.008],[1308,0.0065],[1308,0.0055],[1308,0.0048],[1660,0.0085],[1660,0.007],[1660,0.0058],[1660,0.0047],[1660,0.0038]];
const D3_MED = [[2,0.75],[39,0.109],[63,0.041],[94,0.023],[157,0.0156],[235,0.0094],[352,0.0119],[470,0.0101],[705,0.0089],[1018,0.0067],[1331,0.0053],[1644,0.005]];
const D3_BAND = [[0,0.01,1.3],[40,0.03,0.2],[100,0.012,0.035],[196,0.0028,0.011],[352,0.0024,0.0094],[470,0.0022,0.0094],[705,0.0019,0.009],[1018,0.0016,0.0088],[1331,0.0015,0.0087],[1778,0.0014,0.0085]];
const D3_RUG = [0,10,20,30,40,50,60,70,80,90,100,110,120,130,140,150,160,170,180,196,274,392,587,822,1158,1488];

const D4_PTS = [[0,0.0007],[0,0.001],[0,0.0015],[0,0.0022],[1,0.0035],[2,0.005],[3,0.008],[4,0.012],[5,0.018],[6,0.025],[7,0.035],[8,0.045],[10,0.05],[12,0.04],[14,0.03],[16,0.022],[18,0.016],[20,0.028],[24,0.02],[28,0.014],[32,0.018],[36,0.011],[40,0.015],[48,0.01],[56,0.013],[64,0.009],[72,0.012],[80,0.0075],[90,0.01],[100,0.0065],[115,0.0085],[130,0.006],[150,0.0075],[170,0.005],[190,0.0065],[210,0.0045],[384,0.0085],[384,0.0068],[384,0.0055],[384,0.0045],[384,0.0036],[478,0.0072],[478,0.0058],[478,0.0047],[478,0.0038],[642,0.0052],[642,0.0043],[642,0.0036],[642,0.003],[642,0.0024],[642,0.0019],[978,0.0034],[978,0.0028],[978,0.0024],[978,0.0021],[1323,0.0019],[1323,0.0016],[1323,0.0013],[1323,0.0011],[1323,0.0009],[1652,0.0014],[1652,0.0012],[1652,0.0011],[1652,0.001]];
const D4_MED = [[8,0.0038],[16,0.0285],[55,0.0145],[110,0.01],[227,0.0067],[384,0.0053],[501,0.0038],[658,0.0036],[971,0.0023],[1323,0.0013],[1637,0.0011]];
const D4_BAND = [[0,0.0012,0.05],[16,0.006,0.05],[55,0.005,0.025],[110,0.0035,0.015],[200,0.0022,0.011],[300,0.0012,0.008],[384,0.0006,0.0065],[450,0.0002,0.0058],[658,0.0002,0.005],[1000,0.0002,0.0028],[1778,0.0002,0.0013]];
const D4_RUG = [0,10,20,30,40,50,60,70,80,90,100,110,120,130,140,150,160,170,180,188,227,329,423,540,814,1166,1480];

const D5_PTS = [[0,0.035],[0,0.05],[0,0.08],[0,0.12],[1,0.2],[1,0.3],[2,0.45],[2,0.7],[3,1.0],[3,1.4],[4,1.8],[4,2.1],[5,1.5],[6,1.1],[7,0.8],[8,0.55],[9,0.4],[10,0.3],[11,0.22],[12,0.16],[14,0.12],[15,0.25],[17,0.1],[19,0.18],[21,0.08],[23,0.13],[25,0.065],[27,0.1],[30,0.055],[33,0.08],[36,0.045],[39,0.07],[42,0.04],[45,0.06],[48,0.035],[52,0.05],[56,0.03],[60,0.045],[65,0.028],[70,0.04],[75,0.025],[80,0.035],[85,0.022],[90,0.032],[95,0.02],[100,0.028],[110,0.025],[120,0.02],[130,0.03],[140,0.024],[145,0.018],[167,0.035],[167,0.028],[167,0.022],[167,0.017],[167,0.013],[310,0.03],[310,0.022],[310,0.016],[310,0.012],[310,0.009],[310,0.0075]];
const D5_MED = [[1,0.05],[6,0.79],[13,0.29],[21,0.133],[28,0.075],[35,0.056],[43,0.082],[50,0.05],[65,0.056],[75,0.046],[94,0.038],[145,0.0215],[167,0.0235],[307,0.0195]];
const D5_BAND = [[0,0.035,2.2],[10,0.15,0.8],[25,0.05,0.2],[50,0.03,0.08],[94,0.017,0.05],[145,0.01,0.028],[200,0.0085,0.027],[310,0.0071,0.026]];
const D5_RUG = [0,4,8,12,16,20,24,28,32,36,40,44,48,52,56,60,64,68,72,76,80,84,88,94,109,131,157,241,300];

const D6_PTS = [[0,0.0015],[0,0.0025],[0,0.004],[0,0.006],[1,0.01],[1,0.015],[2,0.025],[2,0.04],[3,0.06],[3,0.08],[4,0.09],[5,0.07],[6,0.05],[7,0.065],[8,0.03],[9,0.055],[10,0.04],[12,0.075],[14,0.03],[16,0.05],[18,0.02],[20,0.065],[22,0.035],[24,0.015],[26,0.045],[28,0.06],[30,0.025],[32,0.04],[34,0.012],[36,0.05],[38,0.03],[40,0.02],[43,0.04],[46,0.055],[49,0.015],[52,0.032],[55,0.045],[58,0.02],[61,0.028],[64,0.01],[67,0.035],[70,0.018],[74,0.025],[78,0.012],[82,0.03],[86,0.02],[90,0.015],[95,0.025],[100,0.011],[105,0.02],[115,0.015],[125,0.018],[144,0.022],[144,0.016],[144,0.012],[144,0.009],[169,0.02],[169,0.015],[169,0.011],[169,0.0075],[169,0.0045],[313,0.017],[313,0.013],[313,0.0095],[313,0.007],[313,0.0045]];
const D6_MED = [[1.5,0.0061],[7,0.038],[19,0.0236],[29,0.033],[41,0.0214],[56,0.0258],[70,0.0176],[85,0.0214],[115,0.0158],[144,0.0119],[166,0.0138],[306,0.0101]];
const D6_BAND = [[0,0.002,0.09],[10,0.012,0.08],[50,0.013,0.045],[100,0.0085,0.032],[144,0.0071,0.0214],[200,0.0055,0.019],[315,0.004,0.0145]];
const D6_RUG = [0,3,6,9,12,15,18,21,24,27,30,33,36,39,42,45,48,51,54,57,60,63,66,69,72,75,78,81,85,93,107,129,159,239];

// ---------------- MAD cohort, Day 1 ----------------
const E_RUG = [0,2,4,6,8,10,12,14,16,18,20,22,24,36,60,84,108,132,156,180,204,228,252,276,300];
const E1_PTS = [[0,0.0012],[0,0.002],[0,0.0035],[0,0.006],[0,0.01],[1,0.015],[1,0.025],[1,0.04],[2,0.06],[2,0.09],[3,0.12],[3,0.16],[4,0.13],[4,0.1],[5,0.07],[5,0.05],[6,0.035],[7,0.025],[8,0.018],[9,0.03],[10,0.012],[11,0.02],[12,0.009],[13,0.015],[14,0.025],[15,0.011],[16,0.018],[17,0.007],[18,0.013],[19,0.022],[20,0.01],[21,0.016],[47,0.032],[47,0.024],[47,0.018],[47,0.013],[47,0.01],[71,0.034],[71,0.026],[71,0.02],[71,0.015],[71,0.011],[95,0.04],[95,0.03],[95,0.022],[95,0.016],[95,0.012],[120,0.04],[120,0.031],[120,0.024],[120,0.017],[120,0.013],[144,0.043],[144,0.032],[144,0.024],[144,0.018],[144,0.012],[167,0.045],[167,0.034],[167,0.026],[167,0.018],[167,0.012],[191,0.05],[191,0.038],[191,0.028],[191,0.021],[191,0.015],[215,0.048],[215,0.036],[215,0.027],[215,0.02],[215,0.015],[239,0.05],[239,0.038],[239,0.029],[239,0.021],[239,0.015],[263,0.052],[263,0.04],[263,0.03],[263,0.023],[263,0.017],[287,0.055],[287,0.042],[287,0.032],[287,0.024],[287,0.017]];
const E1_MED = [[0,0.0037],[3,0.083],[10,0.0197],[21,0.0155],[42,0.0209],[71,0.021],[120,0.0264],[141,0.0236],[170,0.0317],[233,0.03],[283,0.0358]];
const E1_BAND = [[0,0.001,0.16],[5,0.01,0.1],[10,0.0085,0.027],[50,0.011,0.033],[134,0.0137,0.04],[200,0.017,0.042],[297,0.0235,0.043]];

const E2_PTS = [[0,0.0011],[2,0.0012],[4,0.0013],[5,0.0015],[6,0.0011],[7,0.0017],[8,0.0013],[9,0.0019],[10,0.0012],[11,0.0015],[12,0.0021],[13,0.0011],[14,0.0014],[15,0.0018],[16,0.0012],[18,0.0016],[20,0.0013],[35,0.0032],[35,0.0023],[35,0.0016],[35,0.0013],[59,0.0055],[59,0.004],[59,0.0029],[59,0.0018],[82,0.0075],[82,0.0052],[82,0.0038],[82,0.0027],[106,0.0085],[106,0.006],[106,0.0042],[106,0.003],[130,0.0098],[130,0.0072],[130,0.005],[130,0.0033],[153,0.011],[153,0.0078],[153,0.0055],[153,0.0035],[177,0.012],[177,0.0085],[177,0.006],[177,0.0038],[201,0.012],[201,0.009],[201,0.0065],[201,0.0042],[224,0.012],[224,0.009],[224,0.0065],[224,0.0045],[248,0.012],[248,0.0092],[248,0.0068],[248,0.0045],[272,0.012],[272,0.0095],[272,0.007],[272,0.0048],[295,0.012],[295,0.009],[295,0.0068],[295,0.0048]];
const E2_MED = [[14,0.00104],[38,0.002],[66,0.0032],[95,0.0039],[116,0.0039],[151,0.0052],[180,0.0059],[215,0.0066],[243,0.0075],[290,0.0071]];
const E2_BAND = [[8,0.0004,0.0015],[20,0.0008,0.0018],[66,0.0025,0.0041],[151,0.0041,0.0063],[297,0.0052,0.0085]];

const E3_PTS = [[0,0.006],[0,0.01],[0,0.02],[0,0.04],[1,0.08],[1,0.15],[2,0.25],[2,0.4],[3,0.55],[3,0.45],[4,0.3],[4,0.2],[5,0.12],[6,0.08],[7,0.06],[8,0.1],[9,0.045],[10,0.07],[11,0.035],[12,0.055],[13,0.04],[14,0.03],[15,0.06],[16,0.045],[17,0.035],[18,0.05],[19,0.04],[20,0.032],[48,0.08],[48,0.06],[48,0.045],[48,0.035],[71,0.09],[71,0.07],[71,0.055],[71,0.04],[95,0.1],[95,0.08],[95,0.06],[95,0.045],[120,0.11],[120,0.085],[120,0.065],[120,0.05],[144,0.12],[144,0.09],[144,0.07],[144,0.05],[167,0.13],[167,0.1],[167,0.075],[167,0.055],[191,0.13],[191,0.1],[191,0.075],[191,0.055],[215,0.14],[215,0.1],[215,0.075],[215,0.05],[239,0.13],[239,0.1],[239,0.075],[239,0.04],[263,0.14],[263,0.1],[263,0.075],[263,0.055],[287,0.15],[287,0.11],[287,0.08],[287,0.055]];
const E3_MED = [[0,0.0137],[4,0.31],[13,0.074],[24,0.038],[48,0.0547],[83,0.065],[140,0.074],[197,0.074],[239,0.078],[289,0.078]];
const E3_BAND = [[0,0.004,0.55],[5,0.06,0.35],[13,0.035,0.12],[24,0.025,0.08],[48,0.035,0.09],[100,0.045,0.1],[200,0.052,0.12],[297,0.057,0.142]];

const E4_PTS = [[0,0.0012],[0,0.0016],[1,0.002],[2,0.0025],[3,0.003],[4,0.0038],[5,0.0045],[6,0.0055],[7,0.0068],[8,0.005],[9,0.004],[10,0.0032],[11,0.0026],[12,0.0038],[13,0.0046],[14,0.003],[15,0.0055],[16,0.004],[18,0.0034],[20,0.0046],[35,0.006],[35,0.0045],[35,0.0032],[59,0.012],[59,0.009],[59,0.0065],[59,0.0045],[82,0.015],[82,0.011],[82,0.008],[82,0.006],[106,0.018],[106,0.013],[106,0.0095],[106,0.007],[130,0.021],[130,0.016],[130,0.012],[130,0.0085],[153,0.024],[153,0.018],[153,0.013],[153,0.0095],[177,0.026],[177,0.02],[177,0.015],[177,0.011],[201,0.028],[201,0.021],[201,0.016],[201,0.012],[224,0.03],[224,0.023],[224,0.017],[224,0.013],[248,0.033],[248,0.025],[248,0.019],[248,0.014],[272,0.035],[272,0.026],[272,0.02],[272,0.015],[295,0.034],[295,0.027],[295,0.021],[295,0.016]];
const E4_MED = [[3,0.0014],[8,0.0029],[16,0.0035],[23,0.0032],[51,0.0067],[86,0.0096],[129,0.0146],[164,0.0155],[185,0.0174],[221,0.0197],[242,0.0185],[291,0.025]];
const E4_BAND = [[3,0.0008,0.003],[10,0.0015,0.005],[30,0.002,0.0055],[60,0.005,0.01],[129,0.0108,0.0174],[200,0.015,0.024],[297,0.0197,0.03]];

const E5_PTS = [[0,0.009],[0,0.012],[0,0.02],[0,0.035],[0,0.06],[0,0.1],[1,0.15],[1,0.25],[2,0.4],[2,0.6],[3,0.9],[3,1.2],[4,1.5],[4,1.0],[5,0.7],[5,0.45],[6,0.3],[7,0.2],[8,0.35],[9,0.13],[10,0.22],[11,0.09],[12,0.15],[13,0.07],[14,0.11],[15,0.06],[16,0.09],[18,0.065],[20,0.08],[48,0.2],[48,0.14],[48,0.1],[48,0.075],[72,0.27],[72,0.19],[72,0.13],[72,0.09],[96,0.28],[96,0.2],[96,0.14],[96,0.09],[120,0.35],[120,0.24],[120,0.16],[120,0.1],[144,0.36],[144,0.25],[144,0.17],[144,0.1],[168,0.36],[168,0.26],[168,0.18],[168,0.115],[192,0.43],[192,0.3],[192,0.2],[192,0.13],[216,0.37],[216,0.27],[216,0.18],[216,0.115],[240,0.44],[240,0.3],[240,0.2],[240,0.11],[264,0.48],[264,0.33],[264,0.22],[264,0.13],[289,0.45],[289,0.32],[289,0.22],[289,0.14]];
const E5_MED = [[0.5,0.033],[4,0.71],[9,0.29],[12,0.25],[20,0.098],[49,0.116],[71,0.148],[96,0.148],[120,0.19],[154,0.203],[195,0.218],[236,0.225],[289,0.25]];
const E5_BAND = [[0,0.01,1.5],[5,0.2,1.0],[12,0.08,0.35],[19,0.065,0.135],[50,0.09,0.19],[100,0.13,0.26],[150,0.15,0.3],[200,0.17,0.33],[300,0.196,0.36]];

const E6_PTS = [[0,0.0011],[0,0.0013],[0,0.0018],[1,0.0025],[1,0.0035],[2,0.005],[2,0.007],[3,0.01],[3,0.014],[4,0.017],[5,0.012],[6,0.009],[7,0.015],[8,0.011],[9,0.008],[10,0.013],[11,0.006],[12,0.01],[13,0.0075],[14,0.005],[15,0.009],[16,0.0065],[18,0.011],[20,0.0055],[22,0.0085],[36,0.018],[36,0.014],[36,0.011],[36,0.008],[60,0.03],[60,0.022],[60,0.016],[60,0.011],[84,0.04],[84,0.03],[84,0.022],[84,0.015],[108,0.05],[108,0.036],[108,0.026],[108,0.018],[132,0.055],[132,0.04],[132,0.03],[132,0.021],[156,0.06],[156,0.045],[156,0.033],[156,0.024],[180,0.065],[180,0.05],[180,0.036],[180,0.026],[204,0.07],[204,0.052],[204,0.038],[204,0.028],[228,0.075],[228,0.055],[228,0.04],[228,0.03],[252,0.085],[252,0.062],[252,0.045],[252,0.032],[276,0.09],[276,0.065],[276,0.048],[276,0.035],[300,0.085],[300,0.065],[300,0.048],[300,0.034]];
const E6_MED = [[1,0.0011],[3,0.0098],[8,0.0064],[12,0.0094],[22,0.0068],[42,0.013],[85,0.0265],[120,0.0317],[156,0.0428],[198,0.0484],[233,0.058],[283,0.0517]];
const E6_BAND = [[3,0.002,0.02],[20,0.005,0.015],[50,0.011,0.022],[120,0.024,0.045],[200,0.033,0.058],[300,0.038,0.065]];

// ---------------- MAD cohort, Day 14 ----------------
const F1_PTS = [[0,0.25],[0,0.2],[0,0.15],[0,0.1],[0,0.07],[10,0.05],[10,0.035],[20,0.025],[20,0.018],[30,0.013],[40,0.03],[40,0.012],[50,0.02],[60,0.016],[70,0.011],[80,0.022],[90,0.009],[100,0.014],[110,0.0085],[120,0.012],[130,0.018],[140,0.0075],[150,0.01],[160,0.014],[170,0.0095],[180,0.008],[190,0.012],[677,0.019],[677,0.0145],[677,0.011],[677,0.0085],[677,0.0043],[1172,0.0145],[1172,0.011],[1172,0.0085],[1172,0.0065],[1667,0.016],[1667,0.012],[1667,0.009],[1667,0.0065],[1667,0.0046],[2174,0.014],[2174,0.011],[2174,0.0075],[2174,0.0055],[2174,0.0038],[2174,0.0016],[2695,0.0095],[2695,0.0072],[2695,0.0052],[2695,0.0035],[2695,0.0019]];
const F1_MED = [[0,0.126],[39,0.0505],[91,0.0192],[195,0.0147],[651,0.0106],[1172,0.0095],[1693,0.0073],[2213,0.0059],[2669,0.0053]];
const F1_BAND = [[0,0.05,0.3],[100,0.011,0.03],[260,0.0106,0.0213],[1200,0.0069,0.0139],[2888,0.0031,0.0095]];
const F1_RUG = [0,15,30,45,60,75,90,105,120,135,150,165,417,937,1432,1927,2435];

const F2_PTS = [[0,0.02],[0,0.016],[0,0.012],[10,0.009],[10,0.007],[20,0.014],[20,0.005],[30,0.011],[40,0.0085],[50,0.006],[60,0.0045],[70,0.0095],[80,0.0035],[90,0.007],[100,0.005],[110,0.0028],[120,0.0065],[130,0.004],[140,0.0055],[150,0.003],[160,0.0048],[180,0.0038],[677,0.0059],[677,0.0042],[677,0.003],[677,0.0022],[677,0.0011],[1185,0.0033],[1185,0.0026],[1185,0.0022],[1680,0.0021],[1680,0.0016],[1680,0.0013],[1680,0.001],[2190,0.0019],[2190,0.0015],[2190,0.0011],[2708,0.0012]];
const F2_MED = [[13,0.0112],[78,0.0053],[208,0.0041],[664,0.0025],[1185,0.0015],[1680,0.001]];
const F2_BAND = [[0,0.004,0.02],[78,0.0029,0.0078],[664,0.0018,0.0043],[860,0.0002,0.0035],[1700,0.0002,0.0021],[2888,0.0002,0.00105]];
const F2_RUG = [0,15,30,45,60,75,90,105,120,135,150,165,180,430,925,1445,1966,2487];

const F3_PTS = [[0,0.7],[0,0.55],[0,0.4],[0,0.3],[0,0.2],[10,0.15],[10,0.1],[20,0.08],[20,0.06],[30,0.05],[40,0.04],[50,0.035],[60,0.03],[70,0.045],[80,0.025],[90,0.02],[100,0.035],[110,0.018],[120,0.028],[130,0.015],[140,0.022],[150,0.03],[170,0.02],[190,0.025],[670,0.04],[670,0.03],[670,0.022],[670,0.0112],[1190,0.043],[1190,0.032],[1190,0.024],[1190,0.018],[1190,0.0099],[1680,0.043],[1680,0.033],[1680,0.022],[1680,0.015],[1680,0.0065],[2210,0.029],[2210,0.022],[2210,0.016],[2210,0.0099],[2700,0.024],[2700,0.018],[2700,0.013],[2700,0.009],[2700,0.0059],[3653,0.0295]];
const F3_MED = [[35,0.43],[88,0.056],[176,0.0366],[653,0.025],[1147,0.0225],[1677,0.025],[2206,0.0163],[2648,0.0154]];
const F3_BAND = [[0,0.1,0.7],[88,0.03,0.08],[176,0.024,0.0627],[1200,0.0215,0.045],[2700,0.0125,0.0327],[3660,0.01,0.0327]];
const F3_RUG = [0,15,30,45,60,75,90,105,120,135,150,165,180,195,210,440,935,1447,1941,2436,3671];

const F4_PTS = [[0,0.055],[0,0.045],[0,0.035],[0,0.028],[10,0.022],[10,0.018],[20,0.03],[20,0.015],[30,0.025],[40,0.012],[50,0.02],[60,0.01],[70,0.016],[80,0.0085],[90,0.013],[100,0.007],[110,0.011],[120,0.009],[130,0.0065],[140,0.012],[150,0.0075],[653,0.011],[653,0.0085],[653,0.0065],[653,0.0047],[653,0.0034],[1165,0.009],[1165,0.0065],[1165,0.0048],[1165,0.0035],[1165,0.0023],[1659,0.0077],[1659,0.0058],[1659,0.0042],[1659,0.0023],[2171,0.0048],[2171,0.0036],[2171,0.0027],[2171,0.0019],[2171,0.0012],[2665,0.0043],[2665,0.0032],[2665,0.0024],[2665,0.0017],[2665,0.001],[3636,0.0034]];
const F4_MED = [[0,0.0328],[106,0.0147],[671,0.0066],[1112,0.0045],[1641,0.0045],[2171,0.0026],[2612,0.0025]];
const F4_BAND = [[0,0.015,0.05],[150,0.009,0.02],[700,0.004,0.0095],[1700,0.0028,0.0066],[2700,0.0015,0.0034],[3660,0.0015,0.0034]];
const F4_RUG = [0,15,30,45,60,75,90,105,120,135,150,165,180,406,900,1412,1906,2400,3636];

const F5_PTS = [[0,2.5],[0,2.0],[0,1.5],[0,1.0],[0,0.7],[10,0.5],[10,0.35],[20,0.25],[20,0.18],[30,0.13],[40,0.1],[50,0.2],[60,0.08],[70,0.15],[80,0.065],[90,0.12],[100,0.09],[110,0.06],[120,0.11],[130,0.075],[140,0.1],[150,0.07],[677,0.3],[677,0.18],[677,0.11],[677,0.07],[677,0.045],[677,0.024],[1172,0.19],[1172,0.12],[1172,0.08],[1172,0.05],[1172,0.026],[1693,0.19],[1693,0.12],[1693,0.08],[1693,0.05],[1693,0.03],[1693,0.022],[2200,0.19],[2200,0.12],[2200,0.08],[2200,0.05],[2200,0.02],[2695,0.13],[2695,0.09],[2695,0.06],[2695,0.04],[2695,0.018]];
const F5_MED = [[0,1.0],[65,0.147],[182,0.113],[677,0.0816],[1172,0.0564],[1693,0.0775],[2213,0.066],[2695,0.0505]];
const F5_BAND = [[0,0.1,2.0],[100,0.07,0.2],[400,0.055,0.14],[1200,0.045,0.119],[2888,0.0265,0.091]];
const F5_RUG = [0,15,30,45,60,75,90,105,120,135,150,165,180,417,937,1432,1940,2461];

const F6_PTS = [[0,0.13],[0,0.11],[0,0.09],[0,0.075],[10,0.06],[10,0.05],[20,0.1],[20,0.04],[30,0.08],[40,0.035],[50,0.065],[60,0.03],[70,0.055],[80,0.025],[90,0.045],[100,0.022],[110,0.04],[120,0.03],[130,0.02],[140,0.035],[150,0.025],[664,0.05],[664,0.037],[664,0.027],[664,0.019],[664,0.0106],[1172,0.028],[1172,0.021],[1172,0.015],[1172,0.0095],[1172,0.0053],[1680,0.024],[1680,0.017],[1680,0.012],[1680,0.0075],[1680,0.0034],[2187,0.02],[2187,0.015],[2187,0.01],[2187,0.0065],[2187,0.0032],[2682,0.018],[2682,0.013],[2682,0.009],[2682,0.0055],[2682,0.0038]];
const F6_MED = [[0,0.0815],[52,0.0564],[182,0.0386],[638,0.0215],[1159,0.0124],[1680,0.0118],[2200,0.009],[2682,0.0081]];
const F6_BAND = [[0,0.045,0.12],[100,0.03,0.08],[300,0.022,0.05],[1100,0.0111,0.0192],[2888,0.0041,0.0124]];
const F6_RUG = [0,15,30,45,60,75,90,105,120,135,150,165,180,443,937,1445,1940,2461];

// ---------------- Study CL-002 ----------------
const G1_PTS = [[0,0.13],[0,0.15],[0,0.18],[0,0.22],[0,0.26],[0,0.3],[0,0.35],[0,0.42],[0,0.5],[0,0.6],[0,0.75],[0.5,0.14],[0.5,0.2],[0.5,0.28],[0.5,0.38],[0.5,0.55],[0.5,0.7],[0.5,0.8],[0.5,1.5],[3,2.1],[3,1.8],[3,1.5],[3,1.2],[3,1.0],[3,0.85],[3,0.7],[3,0.55],[3,0.45],[4,2.5],[4,1.7],[4,1.2],[4,1.0],[4,0.8],[4,0.65],[4,0.45],[5,3.5],[5,1.6],[5,1.3],[5,1.1],[5,0.9],[5,0.75],[5,0.6],[6,3.3],[6,1.3],[6,1.1],[6,0.9],[6,0.75],[6,0.55],[7,2.9],[7,1.4],[7,1.1],[7,0.85],[7,0.7],[7,0.5],[8,2.3],[8,1.1],[8,0.95],[8,0.8],[8,0.65],[8,0.5],[8,0.42],[12,1.6],[12,1.0],[12,0.85],[12,0.7],[12,0.55],[12,0.45],[12,0.32],[16,1.1],[16,0.6],[16,0.5],[16,0.42],[16,0.35],[16,0.27],[16,0.2],[20,0.65],[20,0.45],[20,0.35],[20,0.28],[20,0.22],[20,0.17],[20,0.15],[24,0.55],[24,0.45],[24,0.38],[24,0.3],[24,0.24],[24,0.2],[24,0.16]];
const G1_MED = [[0.3,0.3],[3,0.91],[4,0.88],[5.1,0.96],[6,0.93],[6.9,0.85],[8,0.7],[12,0.65],[16,0.39],[20,0.3],[24,0.28]];
const G1_BAND = [[-1.6,0.33,0.46],[0.3,0.33,0.46],[3,0.85,1.4],[8,0.7,1.02],[12,0.55,0.85],[16,0.4,0.65],[20,0.33,0.5],[25.7,0.3,0.42]];
const G1_RUG = [-1.2,1.8,3.5,4.5,5.5,6.5,7.5,10,14,18,22];

const G2_PTS = [[0,0.135],[0,0.12],[0,0.1],[0,0.085],[0,0.07],[0,0.06],[0,0.05],[0,0.042],[0,0.036],[0.5,0.11],[0.5,0.075],[0.5,0.055],[0.5,0.04],[3,0.14],[3,0.1],[3,0.075],[3,0.055],[3,0.042],[4,0.14],[4,0.11],[4,0.08],[4,0.06],[4,0.045],[5,0.15],[5,0.11],[5,0.085],[5,0.065],[5,0.048],[6,0.16],[6,0.12],[6,0.09],[6,0.065],[6,0.048],[7,0.16],[7,0.12],[7,0.085],[7,0.06],[7,0.045],[8,0.16],[8,0.12],[8,0.09],[8,0.065],[8,0.043],[12,0.16],[12,0.12],[12,0.09],[12,0.065],[12,0.045],[16,0.13],[16,0.1],[16,0.075],[16,0.058],[16,0.048],[20,0.13],[20,0.1],[20,0.075],[20,0.055],[20,0.037],[24,0.12],[24,0.095],[24,0.072],[24,0.055],[24,0.04]];
const G2_MED = [[0.3,0.063],[5,0.087],[8,0.083],[12,0.083],[16,0.076],[20,0.066],[24,0.067]];
const G2_BAND = [[-1.6,0.06,0.076],[5,0.07,0.101],[12,0.07,0.095],[25.7,0.063,0.083]];
const G2_RUG = [-1.3,1.6,3.4,4.5,5.5,6.5,7.5,10,14,18,22];

// ---------------- LAYOUT / STYLE ----------------
const FONT_AX = "'Liberation Sans', Arial, sans-serif";
const FONT_B = "Lato, 'Open Sans', sans-serif";
const C_PARENT = '#5B9BD5', C_M3 = '#A9D18E';
const C_PT = '#1E8FE1', C_MED = '#FF0000', C_BAND = '#FFB4B5', C_RUG = '#FFA500';

function P(x, ticks, pts, med, band, rug, kind) { return {x, ticks, pts, med, band, rug, kind}; }

const BLOCKS = [
  {titles: RBA_TITLES, left: 568.9, w: 384.2, stripTop: 22.5, top: 81.4, bottom: 424.7, yExp: [-3.25, 0.755], xFont: 35, xMargin: 31, xTitleX: 1260, xTitleY: 528.6, yTitleX: 440, box: [397, 9.8, 2119, 563.4], boxColor: '#22395A', stripFont: 35, yFont: 25,
   panels: [P([-21.5,334.5],T300,A1_PTS,A1_MED,A1_BAND,A1_RUG,'p'), P([-21.5,334.5],T300,A2_PTS,A2_MED,A2_BAND,A2_RUG,'m'), P([-21.5,334.5],T300,A3_PTS,A3_MED,A3_BAND,A3_RUG,'p'), P([-21.5,334.5],T300,A4_PTS,A4_MED,A4_BAND,A4_RUG,'m')]},
  {titles: SADA_TITLES, left: 370.9, w: 380.0, stripTop: 600.6, top: 661.9, bottom: 1004.0, yExp: [-3.25, 0.775], xFont: 35, xMargin: 32, xTitleX: 1266, xTitleY: 1107.5, yTitleX: 240.3, box: [197.6, 577.4, 2287, 1138.5], boxColor: '#111', stripFont: 34, yFont: 25,
   panels: [P([-11,179.5],T150,B1_PTS,B1_MED,B1_BAND,B1_RUG,'p'), P([-11,179.5],T150,B2_PTS,B2_MED,B2_BAND,B2_RUG,'p'), P([-11,179.5],T150,B3_PTS,B3_MED,B3_BAND,B3_RUG,'m'), P([-43,693],T600,B4_PTS,B4_MED,B4_BAND,B4_RUG,'p'), P([-43,693],T600,B5_PTS,B5_MED,B5_BAND,B5_RUG,'m')]},
  {titles: SADB_TITLES, left: 623.6, w: 357.0, stripTop: 1158.6, top: 1216.8, bottom: 1556.7, yExp: [-3.23, 0.763], xFont: 34, xMargin: 32.5, xTitleX: 1286, xTitleY: 1657, yTitleX: 491.4, box: [456.5, 1146.2, 2066, 1692.6], boxColor: '#22395A', stripFont: 33, yFont: 25,
   panels: [P([-116,1766],T1500,C1_PTS,C1_MED,C1_BAND,C1_RUG,'p'), P([-116,1766],T1500,C2_PTS,C2_MED,C2_BAND,C2_RUG,'m'), P([-45,694],T600,C3_PTS,C3_MED,C3_BAND,C3_RUG,'p'), P([-45,694],T600,C4_PTS,C4_MED,C4_BAND,C4_RUG,'m')]},
  {titles: SADC_TITLES, left: 216.8, w: 372.3, stripTop: 1718.6, top: 1775.5, bottom: 2111.9, yExp: [-3.24, 0.71], xFont: 35, xMargin: 31, xTitleX: 1280, xTitleY: 2213.4, yTitleX: 85.3, box: [51.2, 1707.3, 2464, 2252.2], boxColor: '#111', stripFont: 34, yFont: 25,
   panels: [P([-106,1778],T1500,D1_PTS,D1_MED,D1_BAND,D1_RUG,'p'), P([-106,1778],T1500,D2_PTS,D2_MED,D2_BAND,D2_RUG,'m'), P([-106,1778],T1500,D3_PTS,D3_MED,D3_BAND,D3_RUG,'p'), P([-106,1778],T1500,D4_PTS,D4_MED,D4_BAND,D4_RUG,'m'), P([-20.6,332.6],T300,D5_PTS,D5_MED,D5_BAND,D5_RUG,'p'), P([-20.6,332.6],T300,D6_PTS,D6_MED,D6_BAND,D6_RUG,'m')]},
  {titles: MAD_TITLES, header: DAY_HEADERS[0], headerTop: 2359.9, left: 220.1, w: 371.8, stripTop: 2416.8, top: 2471.9, bottom: 2809.1, yExp: [-3.22, 0.736], xFont: 22, xMargin: 33, xTitleX: 1288, xTitleY: 2900, yTitleX: 86.5, box: [47.3, 2352.9, 2464, 2933.8], boxColor: '#22395A', stripFont: 32, yFont: 25,
   panels: [P([-21,313.5],T300B,E1_PTS,E1_MED,E1_BAND,E_RUG,'p'), P([-21,313.5],T300B,E2_PTS,E2_MED,E2_BAND,E_RUG,'m'), P([-21,313.5],T300B,E3_PTS,E3_MED,E3_BAND,E_RUG,'p'), P([-21,313.5],T300B,E4_PTS,E4_MED,E4_BAND,E_RUG,'m'), P([-21,313.5],T300B,E5_PTS,E5_MED,E5_BAND,E_RUG,'p'), P([-21,313.5],T300B,E6_PTS,E6_MED,E6_BAND,E_RUG,'m')]},
  {titles: MAD_TITLES, header: DAY_HEADERS[1], headerTop: 2966, left: 220.1, w: 371.8, stripTop: 3023, top: 3076.8, bottom: 3416.2, yExp: [-3.265, 0.74], xFont: 25, xMargin: 30, xTitleX: 1307, xTitleY: 3512.3, yTitleX: 86.5, box: [47.3, 2948.1, 2464, 3548], boxColor: '#22395A', stripFont: 32, yFont: 25,
   panels: [P([-193,2888],T2500,F1_PTS,F1_MED,F1_BAND,F1_RUG,'p'), P([-193,2888],T2500,F2_PTS,F2_MED,F2_BAND,F2_RUG,'m'), P([-261,3910],T3000,F3_PTS,F3_MED,F3_BAND,F3_RUG,'p'), P([-261,3910],T3000,F4_PTS,F4_MED,F4_BAND,F4_RUG,'m'), P([-193,2888],T2500,F5_PTS,F5_MED,F5_BAND,F5_RUG,'p'), P([-193,2888],T2500,F6_PTS,F6_MED,F6_BAND,F6_RUG,'m')]},
  {titles: CL_TITLES, left: 952.5, w: 349.9, stripTop: 3602.7, top: 3658.4, bottom: 3972, yExp: [-3.28, 0.752], xFont: 32, xMargin: 29, xTitleX: 1252, xTitleY: 4066.1, yTitleX: 830, box: [801.7, 3595.2, 1663.9, 4100], boxColor: '#22395A', stripFont: 31, yFont: 24,
   panels: [P([-1.64,25.7],T24,G1_PTS,G1_MED,G1_BAND,G1_RUG,'p'), P([-1.64,25.7],T24,G2_PTS,G2_MED,G2_BAND,G2_RUG,'m')]}
];

const SECTIONS = [
  {y0: 0, y1: 566.5, fill: '#FFF2D5', label: SECTION_LABELS[0], lx: 32, ly: 290},
  {y0: 566.5, y1: 2263.8, fill: '#E9F2E3', label: SECTION_LABELS[1], lx: 31, ly: 1313},
  {y0: 2263.8, y1: 3565, fill: '#E1EBF5', label: SECTION_LABELS[2], lx: 18, ly: 2313},
  {y0: 3565, y1: 4096, fill: '#FBF0E7', label: SECTION_LABELS[3], lx: 13, ly: 3849}
];

function fmtLog(v) {
  const e = Math.round(Math.log10(v));
  return e >= 0 ? String(Math.pow(10, e)) : Math.pow(10, e).toFixed(-e);
}

function bandRenderer(n) {
  return function (params, api) {
    if (params.dataIndexInside !== 0) return null;
    const up = [], lo = [];
    for (let i = 0; i < n; i++) {
      const x = api.value(0, i), l = api.value(1, i), h = api.value(2, i);
      up.push(api.coord([x, h]));
      lo.push(api.coord([x, l]));
    }
    return {type: 'polygon', shape: {points: up.concat(lo.reverse())}, style: {fill: C_BAND, stroke: C_BAND, lineWidth: 0.5}, silent: true};
  };
}

// y-axis tick marks drawn at the log positions through the axis' own coordinate mapping
function tickRenderer(len) {
  return function (params, api) {
    const c = api.coord([api.value(0), api.value(1)]);
    return {type: 'line', shape: {x1: c[0] - len, y1: c[1], x2: c[0], y2: c[1]}, style: {stroke: '#000', lineWidth: 2}, silent: true};
  };
}

const graphics = [], grids = [], xAxes = [], yAxes = [], series = [];

SECTIONS.forEach(s => {
  graphics.push({type: 'rect', z: -30, shape: {x: 0, y: s.y0, width: 2468, height: s.y1 - s.y0}, style: {fill: s.fill}, silent: true});
  graphics.push({type: 'text', z: 20, x: s.lx, y: s.ly, style: {text: s.label, fontFamily: FONT_B, fontWeight: 'bold', fontSize: 62, fill: '#000', align: 'left', verticalAlign: 'middle'}, silent: true});
});
graphics.push({type: 'rect', z: -25, shape: {x: 1, y: 0, width: 3, height: 4096}, style: {fill: '#4F7FC0'}, silent: true});
graphics.push({type: 'rect', z: -25, shape: {x: 7, y: 0, width: 2.5, height: 4096}, style: {fill: '#6E95CC'}, silent: true});

BLOCKS.forEach(b => {
  const ymin = Math.pow(10, b.yExp[0]), ymax = Math.pow(10, b.yExp[1]);
  const n = b.panels.length;
  const bx = b.box;
  graphics.push({type: 'rect', z: -10, shape: {x: bx[0], y: bx[1], width: bx[2] - bx[0], height: bx[3] - bx[1]}, style: {fill: '#fff', stroke: b.boxColor, lineWidth: 4}, silent: true});
  if (b.header) {
    graphics.push({type: 'rect', z: 5, shape: {x: b.left, y: b.headerTop, width: b.w * n, height: b.stripTop - b.headerTop}, style: {fill: '#E6F1FA'}, silent: true});
    graphics.push({type: 'text', z: 6, x: b.left + b.w * n / 2, y: (b.headerTop + b.stripTop) / 2, style: {text: b.header, fontFamily: FONT_B, fontWeight: 'bold', fontSize: 30, fill: '#000', align: 'center', verticalAlign: 'middle'}, silent: true});
  }
  graphics.push({type: 'text', z: 6, x: b.xTitleX, y: b.xTitleY, style: {text: X_TITLE, fontFamily: FONT_AX, fontSize: 38, fill: '#000', align: 'center', verticalAlign: 'middle'}, silent: true});
  graphics.push({type: 'text', z: 6, x: b.yTitleX, y: (b.top + b.bottom) / 2, rotation: Math.PI / 2, style: {text: Y_TITLE, fontFamily: FONT_AX, fontSize: 35, fill: '#000', align: 'center', verticalAlign: 'middle'}, silent: true});

  b.panels.forEach((p, i) => {
    const left = b.left + i * b.w;
    graphics.push({type: 'rect', z: 5, shape: {x: left, y: b.stripTop, width: b.w, height: b.top - b.stripTop}, style: {fill: p.kind === 'p' ? C_PARENT : C_M3}, silent: true});
    graphics.push({type: 'text', z: 6, x: left + b.w / 2, y: (b.stripTop + b.top) / 2, style: {text: b.titles[i], fontFamily: FONT_B, fontWeight: 'bold', fontSize: b.stripFont, fill: '#000', align: 'center', verticalAlign: 'middle'}, silent: true});

    const gi = grids.length;
    grids.push({left: left, top: b.top, width: b.w, height: b.bottom - b.top, show: true, backgroundColor: '#fff', borderColor: '#000', borderWidth: 1.3, containLabel: false});
    xAxes.push({gridIndex: gi, type: 'value', min: p.x[0], max: p.x[1], position: 'bottom',
      axisLine: {show: true, onZero: false, lineStyle: {color: '#1a1a1a', width: 2}},
      axisTick: {show: true, customValues: p.ticks, length: 15, lineStyle: {color: '#000', width: 2}},
      axisLabel: {show: true, customValues: p.ticks, formatter: v => String(v), fontSize: b.xFont, fontFamily: FONT_AX, color: '#000', margin: b.xMargin, hideOverlap: false},
      splitLine: {show: false}});
    const yi = yAxes.length;
    yAxes.push({gridIndex: gi, type: 'log', logBase: 10, min: ymin, max: ymax, position: 'left', show: i === 0,
      axisLine: {show: true, onZero: false, lineStyle: {color: '#000', width: 2}},
      axisTick: {show: false},
      axisLabel: {show: true, customValues: LOG_MAJOR, formatter: fmtLog, fontSize: b.yFont, fontFamily: FONT_AX, color: '#000', margin: 40, hideOverlap: false},
      splitLine: {show: false}});
    if (i === 0) {
      const inR = v => v >= ymin && v <= ymax;
      series.push({type: 'custom', xAxisIndex: gi, yAxisIndex: yi, data: LOG_MAJOR.filter(inR).map(v => [p.x[0], v]), clip: false, z: 4, silent: true, renderItem: tickRenderer(23)});
      series.push({type: 'custom', xAxisIndex: gi, yAxisIndex: yi, data: LOG_MINOR.filter(inR).map(v => [p.x[0], v]), clip: false, z: 4, silent: true, renderItem: tickRenderer(12)});
    }
    series.push({type: 'custom', xAxisIndex: gi, yAxisIndex: yi, data: p.band, clip: true, z: 1, silent: true, renderItem: bandRenderer(p.band.length)});
    series.push({type: 'scatter', xAxisIndex: gi, yAxisIndex: yi, data: p.pts, symbol: 'circle', symbolSize: 15, itemStyle: {color: 'rgba(0,0,0,0)', borderColor: C_PT, borderWidth: 2.2}, z: 2, silent: true});
    series.push({type: 'line', xAxisIndex: gi, yAxisIndex: yi, data: p.med, showSymbol: false, symbol: 'none', lineStyle: {color: C_MED, width: 4.5}, z: 3, silent: true, clip: true});
    series.push({type: 'scatter', xAxisIndex: gi, yAxisIndex: yi, data: p.rug.map(t => [t, ymin]), symbol: 'roundRect', symbolSize: [5, 12], symbolOffset: [0, -6], itemStyle: {color: C_RUG}, z: 2, silent: true, clip: false});
  });
});

const chart = echarts.init(document.getElementById('c'), null, {renderer: 'canvas', width: 2468, height: 4096});
chart.setOption({
  animation: false,
  backgroundColor: '#fff',
  graphic: {elements: graphics},
  grid: grids, xAxis: xAxes, yAxis: yAxes, series: series
});
</script></body></html>
